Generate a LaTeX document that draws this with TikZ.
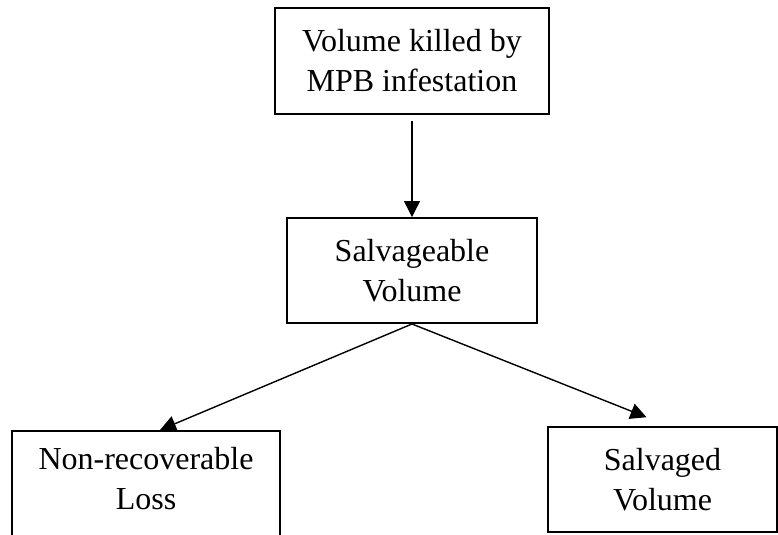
\documentclass[tikz,border=0pt]{standalone}
\usepackage{fontspec}
\setmainfont{Liberation Serif}
\usepackage{tikz}
\usetikzlibrary{arrows.meta,positioning}

\begin{document}
\begin{tikzpicture}[
    box/.style={draw, line width=1.4pt, align=center, inner xsep=0pt,
      font=\fontsize{22.76}{28.45}\selectfont},
    flow/.style={-{Triangle[length=4mm,width=4mm]}, line width=1pt}]
  \useasboundingbox (0,0) rectangle (19.45,13.35);
  \node[box, minimum width=6.85cm, minimum height=2.65cm] (killed) at (10.3,11.825) {Volume killed by\\MPB infestation};
  \node[box, minimum width=6.25cm, minimum height=2.625cm] (salvageable) at (10.3,6.5875) {Salvageable\\Volume};
  \node[box, minimum width=6.7cm, inner ysep=0.4cm, text depth=1cm, anchor=north] (loss) at (3.65,2.6) {Non-recoverable\\Loss};
  \node[box, minimum width=5.725cm, minimum height=2.625cm] (salvaged) at (16.5625,1.3625) {Salvaged\\Volume};
  \draw[flow] ([yshift=-0.15cm]killed.south) -- (salvageable.north);
  \draw[flow] (salvageable.south) -- ([xshift=0.35cm]loss.north);
  \draw[flow] (salvageable.south) -- ([xshift=-0.4cm,yshift=0.22cm]salvaged.north);
\end{tikzpicture}
\end{document}
